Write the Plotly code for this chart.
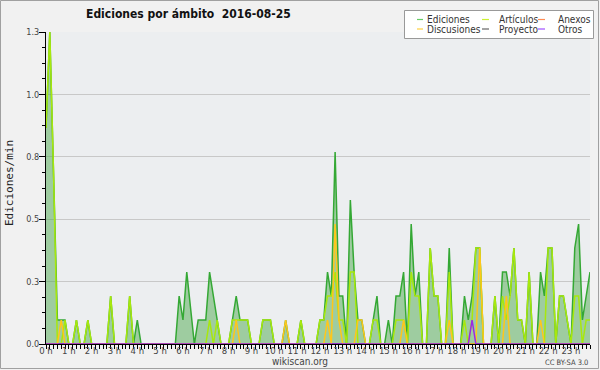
import plotly.graph_objects as go

# 10-minute bins across the day (x in hours)
hours = [i / 6 for i in range(144)]

# Edits per minute, one row per hour (6 bins of 10 minutes)
ediciones = [
    0.9, 1.3, 0.7, 0.1, 0.1, 0.1,
    0, 0, 0.1, 0, 0, 0.1,
    0, 0, 0, 0, 0, 0.2,
    0, 0, 0, 0, 0.2, 0,
    0.1, 0, 0, 0, 0, 0,
    0, 0, 0, 0, 0, 0.2,
    0.1, 0.3, 0.15, 0, 0.1, 0.1,
    0.1, 0.3, 0.2, 0.1, 0, 0,
    0, 0.1, 0.2, 0.1, 0.1, 0.1,
    0, 0, 0, 0.1, 0.1, 0.1,
    0, 0, 0, 0.1, 0, 0,
    0, 0.1, 0, 0, 0, 0,
    0.1, 0.1, 0.3, 0.2, 0.8, 0.2,
    0.2, 0, 0.6, 0.3, 0.1, 0.1,
    0, 0, 0.1, 0.2, 0, 0,
    0.1, 0, 0.2, 0.2, 0.3, 0,
    0.5, 0.2, 0.3, 0, 0, 0.4,
    0.2, 0.2, 0, 0, 0.4, 0,
    0, 0, 0.2, 0.1, 0.2, 0.4,
    0.4, 0, 0, 0, 0.2, 0,
    0.3, 0.3, 0.2, 0.4, 0.1, 0.1,
    0, 0.3, 0, 0, 0.3, 0.2,
    0.4, 0.4, 0, 0.2, 0.2, 0.1,
    0, 0.4, 0.5, 0.1, 0.2, 0.3,
]

articulos = [
    0.9, 1.3, 0.7, 0, 0, 0.1,
    0, 0, 0.1, 0, 0, 0.1,
    0, 0, 0, 0, 0, 0.2,
    0, 0, 0, 0, 0.2, 0,
    0, 0, 0, 0, 0, 0,
    0, 0, 0, 0, 0, 0,
    0, 0, 0, 0, 0, 0,
    0, 0.1, 0, 0.1, 0, 0,
    0, 0.1, 0.1, 0.1, 0.1, 0.1,
    0, 0, 0, 0.1, 0.1, 0.1,
    0, 0, 0, 0, 0, 0,
    0, 0.1, 0, 0, 0, 0,
    0.1, 0.1, 0.2, 0.2, 0.3, 0.1,
    0.1, 0, 0.3, 0.3, 0, 0,
    0, 0, 0.1, 0.1, 0, 0,
    0, 0, 0.1, 0.1, 0.1, 0,
    0.3, 0.2, 0.2, 0, 0, 0.4,
    0.2, 0.2, 0, 0, 0.3, 0,
    0, 0, 0.1, 0, 0.1, 0.4,
    0.4, 0, 0, 0, 0.2, 0,
    0.2, 0.1, 0.2, 0.4, 0.1, 0.1,
    0, 0.3, 0, 0, 0, 0,
    0.4, 0.4, 0, 0.2, 0.2, 0.1,
    0, 0.2, 0.2, 0, 0.1, 0.1,
]

discusiones = [
    0, 0, 0, 0, 0.1, 0,
    0, 0, 0, 0, 0, 0,
    0, 0, 0, 0, 0, 0,
    0, 0, 0, 0, 0, 0,
    0, 0, 0, 0, 0, 0,
    0, 0, 0, 0, 0, 0,
    0, 0, 0, 0, 0, 0,
    0, 0, 0, 0, 0, 0,
    0, 0, 0.1, 0, 0, 0,
    0, 0, 0, 0, 0, 0,
    0, 0, 0, 0.1, 0, 0,
    0, 0, 0, 0, 0, 0,
    0, 0, 0.1, 0, 0.5, 0.1,
    0, 0, 0, 0, 0.1, 0.1,
    0, 0, 0, 0, 0, 0,
    0, 0, 0, 0, 0.1, 0,
    0, 0, 0, 0, 0, 0,
    0, 0, 0, 0, 0.1, 0,
    0, 0, 0, 0, 0, 0,
    0.4, 0, 0, 0, 0, 0,
    0, 0.2, 0, 0, 0, 0,
    0, 0, 0, 0, 0.1, 0,
    0, 0, 0, 0, 0, 0,
    0, 0, 0, 0, 0, 0,
]

otros = [
    0, 0, 0, 0, 0, 0, 0, 0, 0, 0, 0, 0, 0, 0, 0, 0, 0, 0, 0, 0, 0, 0, 0, 0,
    0, 0, 0, 0, 0, 0, 0, 0, 0, 0, 0, 0, 0, 0, 0, 0, 0, 0, 0, 0, 0, 0, 0, 0,
    0, 0, 0, 0, 0, 0, 0, 0, 0, 0, 0, 0, 0, 0, 0, 0, 0, 0, 0, 0, 0, 0, 0, 0,
    0, 0, 0, 0, 0, 0, 0, 0, 0, 0, 0, 0, 0, 0, 0, 0, 0, 0, 0, 0, 0, 0, 0, 0,
    0, 0, 0, 0, 0, 0, 0, 0, 0, 0, 0, 0, 0, 0, 0, 0, 0.1, 0, 0, 0, 0, 0, 0, 0,
    0, 0, 0, 0, 0, 0, 0, 0, 0, 0, 0, 0, 0, 0, 0, 0, 0, 0, 0, 0, 0, 0, 0, 0,
]

anexos = [
    0, 0, 0, 0, 0, 0, 0, 0, 0, 0, 0, 0, 0, 0, 0, 0, 0, 0, 0, 0, 0, 0, 0, 0,
    0, 0, 0, 0, 0, 0, 0, 0, 0, 0, 0, 0, 0, 0, 0, 0, 0, 0, 0, 0, 0, 0, 0, 0,
    0, 0, 0, 0, 0, 0, 0, 0, 0, 0, 0, 0, 0, 0, 0, 0, 0, 0, 0, 0, 0, 0, 0, 0,
    0, 0, 0, 0, 0, 0, 0, 0, 0, 0, 0, 0, 0, 0, 0, 0, 0, 0, 0, 0, 0, 0, 0, 0,
    0, 0, 0, 0, 0, 0, 0, 0, 0, 0, 0, 0, 0, 0, 0, 0, 0, 0, 0, 0, 0, 0, 0, 0,
    0, 0, 0, 0, 0, 0, 0, 0, 0, 0, 0, 0, 0, 0, 0, 0, 0, 0, 0, 0, 0, 0, 0, 0,
]
proyecto = list(anexos)

hour_ticks = list(range(24))
hour_labels = [f"{h} h" for h in hour_ticks]
y_ticks = [0, 0.26, 0.52, 0.78, 1.04, 1.3]
y_labels = ["0.0", "0.3", "0.5", "0.8", "1.0", "1.3"]

series_names = ["Ediciones", "Artículos", "Anexos", "Discusiones", "Proyecto", "Otros"]
series_colors = ["#34a834", "#a8e80c", "#ff7f3f", "#ffc61a", "#555555", "#9b27e6"]
legend_colors = ["#66cc66", "#ccf033", "#ff8c55", "#ffd040", "#666666", "#a050ff"]
series_data = [ediciones, articulos, anexos, discusiones, proyecto, otros]

FONT = "DejaVu Sans Condensed, DejaVu Sans, sans-serif"

fig = go.Figure()
fig.add_trace(go.Scatter(
    x=hours, y=ediciones, mode="lines", name="Ediciones",
    line=dict(color=series_colors[0], width=1.5),
    fill="tozeroy", fillcolor="rgba(70,165,70,0.47)",
))
draw_order = [1, 2, 4, 3, 5]
for k in draw_order:
    fig.add_trace(go.Scatter(
        x=hours, y=series_data[k], mode="lines", name=series_names[k],
        line=dict(color=series_colors[k], width=1.5),
    ))

# plot area: x 46..590, y 32..344 in pixels
L, R, T, B = 46, 590, 32, 344
W, H = R - L, B - T

def px(x):
    return (x - L) / W

def py(y):
    return (B - y) / H

shapes = []
annotations = []

# outer frame
shapes.append(dict(type="rect", xref="paper", yref="paper",
                   x0=px(0.5), x1=px(598.5), y0=py(368.5), y1=py(0.5),
                   line=dict(color="#a0a0a0", width=1), layer="below"))

# legend box
shapes.append(dict(type="rect", xref="paper", yref="paper",
                   x0=px(404.5), x1=px(593.5), y0=py(38.5), y1=py(10.5),
                   line=dict(color="#999999", width=1), fillcolor="#ffffff", layer="above"))
col_line_x = [(417, 423), (482, 489), (538, 545)]
col_text_x = [425, 497, 556]
row_y = [19.5, 29]
for i, (name, col) in enumerate(zip(series_names, legend_colors)):
    r, c = divmod(i, 3)
    shapes.append(dict(type="line", xref="paper", yref="paper",
                       x0=px(col_line_x[c][0]), x1=px(col_line_x[c][1]),
                       y0=py(row_y[r]), y1=py(row_y[r]),
                       line=dict(color=col, width=1.2), layer="above"))
    annotations.append(dict(text=name, xref="paper", yref="paper",
                            x=px(col_text_x[c]), y=py(row_y[r]),
                            xanchor="left", yanchor="middle", showarrow=False,
                            font=dict(family=FONT, size=10, color="#333333")))

annotations.append(dict(text="<b>Ediciones por ámbito  2016-08-25</b>", xref="paper", yref="paper",
                        x=px(188), y=py(14), xanchor="center", yanchor="middle",
                        showarrow=False, font=dict(family=FONT, size=12, color="#111111")))
annotations.append(dict(text="Ediciones/min", xref="paper", yref="paper",
                        x=px(10), y=py(183), xanchor="center", yanchor="middle",
                        textangle=-90, showarrow=False,
                        font=dict(family="DejaVu Sans Mono, monospace", size=11, color="#222222")))
annotations.append(dict(text="wikiscan.org", xref="paper", yref="paper",
                        x=px(300), y=py(361.5), xanchor="center", yanchor="middle",
                        showarrow=False, font=dict(family=FONT, size=10, color="#444444")))
annotations.append(dict(text="CC BY-SA 3.0", xref="paper", yref="paper",
                        x=px(590), y=py(362.5), xanchor="right", yanchor="middle",
                        showarrow=False, font=dict(family=FONT, size=7.5, color="#444444")))

fig.update_layout(
    width=600, height=370,
    margin=dict(l=L, r=600 - R, t=T, b=370 - B, autoexpand=False),
    paper_bgcolor="#f1f1f1", plot_bgcolor="#eceef0",
    showlegend=False,
    shapes=shapes, annotations=annotations,
    font=dict(family=FONT, size=9, color="#444444"),
)
fig.update_xaxes(
    range=[0, 143 / 6], tickmode="array", tickvals=hour_ticks, ticktext=hour_labels,
    showgrid=False, zeroline=False, showline=True, linecolor="#000000", linewidth=1,
    ticks="outside", ticklen=4, tickcolor="#000000", tickwidth=1,
    tickfont=dict(family=FONT, size=9.5, color="#444444"), automargin=False,
    ticklabelstandoff=-6,
    minor=dict(dtick=1 / 6, tick0=0, ticks="outside", ticklen=4, tickcolor="#000000", tickwidth=1, showgrid=False),
    fixedrange=True,
)
fig.update_yaxes(
    range=[0, 1.3], tickmode="array", tickvals=y_ticks, ticktext=y_labels,
    showgrid=True, gridcolor="#c8c8c8", gridwidth=1, zeroline=False,
    showline=True, linecolor="#000000", linewidth=1,
    ticks="outside", ticklen=6, tickcolor="#000000", tickwidth=1,
    tickfont=dict(family=FONT, size=9, color="#444444"), automargin=False,
    ticklabelstandoff=-2,
    minor=dict(dtick=0.065, tick0=0, ticks="outside", ticklen=3, tickcolor="#000000", tickwidth=1, showgrid=False),
    fixedrange=True,
)

fig.write_html("out.html", config={"displayModeBar": False},
               post_script="document.body.style.margin='0';document.body.style.overflow='hidden';")
